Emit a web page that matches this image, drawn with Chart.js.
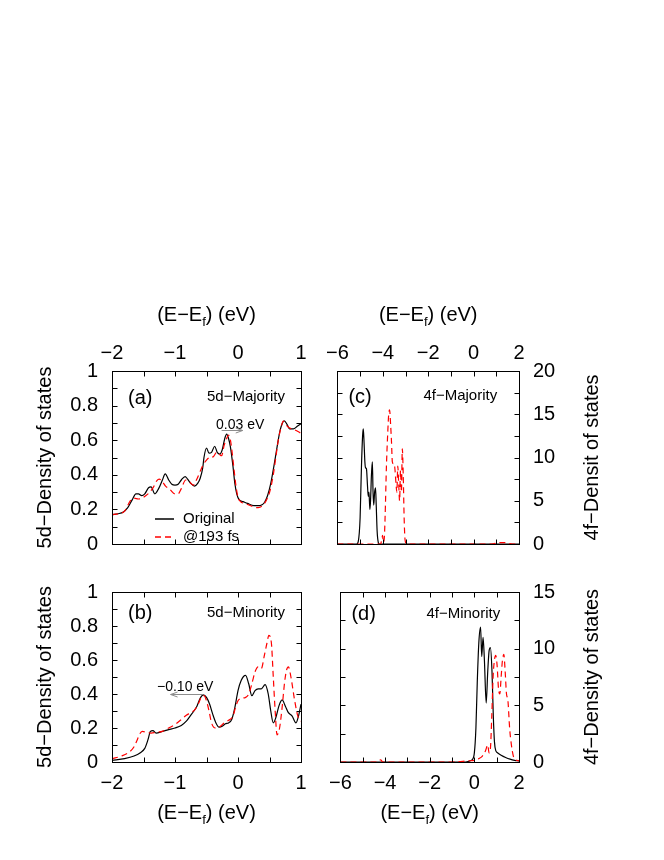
<!DOCTYPE html>
<html>
<head>
<meta charset="utf-8">
<script src="https://cdn.jsdelivr.net/npm/chart.js@4.4.0/dist/chart.umd.min.js"></script>
<style>
  body { margin: 0; background: #fff; }
  #wrap { position: relative; width: 664px; height: 860px; }
  canvas { position: absolute; }
</style>
</head>
<body>
<div id="wrap">
  <canvas id="pa" width="320" height="300" style="left:0;top:270px"></canvas>
  <canvas id="pb" width="320" height="294" style="left:0;top:566px"></canvas>
  <canvas id="pc" width="344" height="300" style="left:320px;top:270px"></canvas>
  <canvas id="pd" width="344" height="294" style="left:320px;top:566px"></canvas>
</div>
<script>
var FONT = '"Liberation Sans", Arial, Helvetica, sans-serif';

// tick labels
var x5dTicks = [-2, -1, 0, 1];
var x4fTicks = [-6, -4, -2, 0, 2];
var y5dTicks = [0, 0.2, 0.4, 0.6, 0.8, 1];
var y4fMajTicks = [0, 5, 10, 15, 20];
var y4fMinTicks = [0, 5, 10, 15];

// (a) 5d majority
var aOrigX = [-2.0,-1.9,-1.82,-1.75,-1.68,-1.62,-1.58,-1.53,-1.48,-1.42,-1.38,-1.32,-1.26,-1.2,-1.155,-1.1,-1.05,-1.0,-0.95,-0.9,-0.84,-0.8,-0.75,-0.69,-0.64,-0.6,-0.56,-0.54,-0.5,-0.46,-0.42,-0.37,-0.33,-0.29,-0.25,-0.21,-0.18,-0.15,-0.12,-0.08,-0.05,-0.02,0.02,0.08,0.15,0.25,0.35,0.42,0.47,0.52,0.57,0.62,0.67,0.735,0.78,0.82,0.88,0.94,1.0];
var aOrigY = [0.17,0.175,0.185,0.21,0.255,0.29,0.29,0.28,0.29,0.325,0.33,0.29,0.32,0.37,0.405,0.37,0.345,0.34,0.345,0.37,0.39,0.375,0.35,0.335,0.35,0.38,0.44,0.50,0.555,0.525,0.53,0.565,0.53,0.52,0.545,0.61,0.635,0.61,0.56,0.45,0.35,0.29,0.255,0.245,0.235,0.222,0.222,0.24,0.28,0.35,0.45,0.56,0.66,0.712,0.69,0.665,0.665,0.68,0.695];
var a193X = [-2.0,-1.9,-1.8,-1.74,-1.7,-1.65,-1.58,-1.52,-1.46,-1.4,-1.34,-1.29,-1.25,-1.2,-1.15,-1.08,-1.0,-0.95,-0.9,-0.83,-0.77,-0.71,-0.66,-0.6,-0.55,-0.5,-0.45,-0.39,-0.34,-0.3,-0.26,-0.22,-0.18,-0.15,-0.12,-0.09,-0.06,-0.03,0.0,0.04,0.1,0.18,0.26,0.32,0.4,0.46,0.51,0.56,0.6,0.64,0.68,0.72,0.76,0.82,0.9,1.0];
var a193Y = [0.17,0.175,0.19,0.23,0.255,0.265,0.26,0.265,0.28,0.3,0.33,0.365,0.375,0.36,0.335,0.315,0.29,0.29,0.32,0.37,0.36,0.34,0.37,0.42,0.46,0.485,0.5,0.505,0.53,0.52,0.51,0.57,0.61,0.63,0.6,0.52,0.42,0.33,0.27,0.245,0.235,0.225,0.212,0.21,0.225,0.26,0.31,0.4,0.5,0.6,0.67,0.71,0.69,0.67,0.66,0.64];

// (b) 5d minority
var bOrigX = [-2.0,-1.8,-1.65,-1.55,-1.48,-1.43,-1.39,-1.35,-1.3,-1.2,-1.1,-1.0,-0.9,-0.82,-0.76,-0.7,-0.65,-0.6,-0.55,-0.5,-0.45,-0.4,-0.35,-0.3,-0.25,-0.2,-0.15,-0.1,-0.05,0.0,0.05,0.12,0.17,0.22,0.27,0.32,0.37,0.43,0.48,0.52,0.56,0.6,0.65,0.7,0.75,0.8,0.86,0.92,0.96,1.0];
var bOrigY = [0.01,0.02,0.035,0.055,0.08,0.13,0.18,0.185,0.17,0.18,0.19,0.2,0.215,0.24,0.27,0.3,0.33,0.375,0.395,0.38,0.34,0.28,0.23,0.205,0.21,0.225,0.23,0.25,0.32,0.42,0.48,0.51,0.46,0.39,0.42,0.43,0.43,0.455,0.4,0.3,0.23,0.26,0.33,0.365,0.33,0.29,0.27,0.23,0.27,0.34];
var b193X = [-2.0,-1.85,-1.72,-1.65,-1.6,-1.56,-1.52,-1.45,-1.38,-1.3,-1.2,-1.1,-1.0,-0.9,-0.82,-0.75,-0.68,-0.62,-0.58,-0.54,-0.5,-0.46,-0.42,-0.36,-0.3,-0.22,-0.15,-0.08,-0.04,0.0,0.06,0.12,0.17,0.22,0.27,0.32,0.37,0.42,0.46,0.49,0.53,0.56,0.59,0.62,0.66,0.7,0.74,0.77,0.8,0.84,0.9,0.95,1.0];
var b193Y = [0.02,0.035,0.06,0.09,0.13,0.165,0.18,0.175,0.17,0.175,0.18,0.2,0.22,0.25,0.275,0.29,0.31,0.35,0.385,0.39,0.36,0.3,0.23,0.2,0.205,0.23,0.245,0.27,0.32,0.36,0.375,0.38,0.4,0.46,0.53,0.56,0.55,0.63,0.7,0.745,0.7,0.5,0.3,0.16,0.2,0.32,0.47,0.54,0.56,0.5,0.36,0.27,0.24];

// (c) 4f majority
var cOrigX = [-6,-5.15,-5.08,-5.0,-4.94,-4.89,-4.86,-4.83,-4.79,-4.76,-4.72,-4.68,-4.64,-4.61,-4.57,-4.54,-4.5,-4.46,-4.43,-4.4,-4.36,-4.32,-4.29,-4.25,-4.2,-4.15,2];
var cOrigY = [0,0,0.3,3,9,12.5,13.3,12,9.5,8.8,8.7,7,5.5,6,4,5,8,9.5,6,4.5,6,6.5,4.5,1.5,0.2,0,0];
var c193X = [-6,-4.1,-4.04,-4.01,-3.98,-3.94,-3.9,-3.84,-3.78,-3.74,-3.7,-3.66,-3.62,-3.58,-3.54,-3.5,-3.46,-3.42,-3.38,-3.34,-3.3,-3.26,-3.22,-3.18,-3.14,-3.1,-3.06,-3.02,-2.95,0.8,1.1,1.4,1.7,2];
var c193Y = [0,0,0.6,1,0.2,0.5,3,9,13,15,15.5,14,12,9.5,9.3,9.3,8.5,7,6,9,7,5,8.5,6,11,8,3,0.5,0,0,0.15,0.15,0,0];

// (d) 4f minority
var dOrigX = [-6,-0.4,-0.2,-0.1,0.0,0.07,0.13,0.2,0.28,0.33,0.39,0.45,0.53,0.6,0.66,0.72,0.79,0.85,0.9,0.96,1.05,1.2,1.4,1.6,1.8,2];
var dOrigY = [0,0,0.1,0.2,0.8,3,7,10.5,11.9,9.3,11,9,5.2,8,9.8,10.1,8,4,1.8,1,0.8,0.6,0.4,0.25,0.15,0.1];
var d193X = [-6,-4.3,-4.2,-4.1,-3.5,-1,-0.3,0.0,0.2,0.35,0.5,0.6,0.66,0.72,0.78,0.84,0.9,0.96,1.02,1.08,1.14,1.2,1.26,1.32,1.38,1.44,1.5,1.58,1.66,1.75,1.85,2];
var d193Y = [0,0,0.2,0,0,0,0.1,0.15,0.3,0.5,1,1.5,0.8,1.2,4,7.5,9,9.4,8.5,6.5,6,7.5,9,9.5,8,6,5.5,3,1.5,0.5,0.2,0.1];

var seriesNames = ['Original', '@193 fs'];
var seriesColors = ['#000000', '#ff0000'];
var seriesDash = [[], [6, 4]];

function pts(xs, ys) {
  return xs.map(function(x, i) { return {x: x, y: ys[i]}; });
}

function fmt(v) {
  var r = Math.round(v * 10) / 10;
  return r < 0 ? '\u2212' + Math.abs(r) : String(r);
}

function sets(ox, oy, rx, ry) {
  return [
    { label: seriesNames[0], data: pts(ox, oy), borderColor: seriesColors[0], borderWidth: 1.2,
      borderDash: seriesDash[0], pointRadius: 0, cubicInterpolationMode: 'monotone', order: 1 },
    { label: seriesNames[1], data: pts(rx, ry), borderColor: seriesColors[1], borderWidth: 1.2,
      borderDash: seriesDash[1], pointRadius: 0, cubicInterpolationMode: 'monotone', order: 0 }
  ];
}

function axis(pos, min, max, tickVals, size, pad) {
  var horiz = (pos == 'top' || pos == 'bottom');
  return {
    type: 'linear', position: pos, min: min, max: max,
    grid: { display: false, drawTicks: false }, border: { display: false },
    ticks: { color: '#000', padding: pad, autoSkip: false, maxRotation: 0,
             font: { family: FONT, size: 20 }, callback: fmt },
    afterBuildTicks: function(s) { s.ticks = tickVals.map(function(v) { return {value: v}; }); },
    afterFit: function(s) { if (horiz) s.height = size; else s.width = size; }
  };
}

function eTitle(ctx, cx, cy) {
  var p1 = '(E\u2212E', p2 = 'f', p3 = ') (eV)';
  ctx.font = '20px ' + FONT;
  var w1 = ctx.measureText(p1).width, w3 = ctx.measureText(p3).width;
  ctx.font = '13px ' + FONT;
  var w2 = ctx.measureText(p2).width;
  var x = cx - (w1 + w2 + w3) / 2;
  ctx.textAlign = 'left'; ctx.textBaseline = 'middle';
  ctx.font = '20px ' + FONT; ctx.fillText(p1, x, cy);
  ctx.font = '13px ' + FONT; ctx.fillText(p2, x + w1, cy + 7);
  ctx.font = '20px ' + FONT; ctx.fillText(p3, x + w1 + w2, cy);
}

function arrow(ctx, x1, x2, y) {
  var d = x2 > x1 ? 1 : -1;
  ctx.beginPath();
  ctx.moveTo(x1, y); ctx.lineTo(x2, y);
  ctx.moveTo(x2 - d * 7, y - 2.5); ctx.lineTo(x2, y); ctx.lineTo(x2 - d * 7, y + 2.5);
  ctx.stroke();
}

var deco = {
  id: 'deco',
  afterDraw: function(chart, args, o) {
    var ctx = chart.ctx, a = chart.chartArea, xs = chart.scales.x, ys = chart.scales.y;
    var L = Math.round(a.left) + 0.5, R = Math.round(a.right) + 0.5;
    var T = Math.round(a.top) + 0.5, B = Math.round(a.bottom) + 0.5;
    ctx.save();
    ctx.strokeStyle = '#000'; ctx.lineWidth = 1;
    ctx.beginPath();
    for (var v = xs.min; v <= xs.max + 1e-9; v += o.xStep) {
      var px = Math.round(xs.getPixelForValue(v)) + 0.5;
      ctx.moveTo(px, T); ctx.lineTo(px, T + 5);
      ctx.moveTo(px, B); ctx.lineTo(px, B - 5);
    }
    for (var w = ys.min; w <= ys.max + 1e-9; w += o.yStep) {
      var py = Math.round(ys.getPixelForValue(w)) + 0.5;
      ctx.moveTo(L, py); ctx.lineTo(L + 5, py);
      ctx.moveTo(R, py); ctx.lineTo(R - 5, py);
    }
    ctx.stroke();
    ctx.strokeRect(L, T, R - L, B - T);

    ctx.fillStyle = '#000';
    ctx.textBaseline = 'middle'; ctx.textAlign = 'left';
    ctx.font = '20px ' + FONT;
    ctx.fillText(o.tag, a.left + o.tagPos[0], a.top + o.tagPos[1]);
    ctx.font = '15px ' + FONT;
    ctx.fillText(o.name, a.left + o.namePos[0], a.top + o.namePos[1]);

    // axis titles
    if (o.xTitle == 'top') eTitle(ctx, (a.left + a.right) / 2, a.top - 56);
    else eTitle(ctx, (a.left + a.right) / 2, a.bottom + 51);
    ctx.save();
    ctx.font = '20px ' + FONT; ctx.textAlign = 'center'; ctx.textBaseline = 'middle';
    var tx = o.yTitleSide == 'left' ? 45 : a.right + 73;
    ctx.translate(tx, (a.top + a.bottom) / 2);
    ctx.rotate(-Math.PI / 2);
    ctx.fillText(o.yTitle, 0, 0);
    ctx.restore();

    // shift annotation
    if (o.shift) {
      ctx.font = '14px ' + FONT; ctx.textAlign = 'left'; ctx.textBaseline = 'middle';
      ctx.fillText(o.shift.text, a.left + o.shift.textPos[0], a.top + o.shift.textPos[1]);
      ctx.strokeStyle = '#8c8c8c'; ctx.lineWidth = 1;
      arrow(ctx, xs.getPixelForValue(o.shift.from), xs.getPixelForValue(o.shift.to),
            Math.round(ys.getPixelForValue(o.shift.y)) + 0.5);
    }

    // legend
    if (o.legend) {
      ctx.font = '15px ' + FONT; ctx.textAlign = 'left'; ctx.textBaseline = 'middle';
      for (var i = 0; i < seriesNames.length; i++) {
        var ly = Math.round(a.top + 148 + i * 18);
        ctx.strokeStyle = seriesColors[i]; ctx.lineWidth = 1.5;
        ctx.setLineDash(seriesDash[i]);
        ctx.beginPath(); ctx.moveTo(a.left + 43, ly); ctx.lineTo(a.left + 62, ly); ctx.stroke();
        ctx.setLineDash([]);
        ctx.fillStyle = '#000';
        ctx.fillText(seriesNames[i], a.left + 71, ly);
      }
    }
    ctx.restore();
  }
};

function makeChart(id, datasets, xAx, yAx, pad, deco_opts) {
  return new Chart(document.getElementById(id), {
    type: 'line',
    data: { datasets: datasets },
    options: {
      responsive: false, animation: false, events: [],
      layout: { padding: pad },
      scales: { x: xAx, y: yAx },
      plugins: { legend: { display: false }, tooltip: { enabled: false }, deco: deco_opts }
    },
    plugins: [deco]
  });
}

makeChart('pa', sets(aOrigX, aOrigY, a193X, a193Y),
  axis('top', -2, 1, x5dTicks, 101, 6), axis('left', 0, 1, y5dTicks, 112, 14),
  { left: 0, top: 0, right: 19, bottom: 15 },
  { xStep: 0.5, yStep: 0.1, tag: '(a)', tagPos: [16, 27], name: '5d\u2212Majority', namePos: [95, 26],
    xTitle: 'top', yTitleSide: 'left', yTitle: '5d\u2212Density of states', legend: true,
    shift: { text: '0.03 eV', textPos: [104, 54], from: -0.26, to: 0.075, y: 0.658 } });

makeChart('pb', sets(bOrigX, bOrigY, b193X, b193Y),
  axis('bottom', -2, 1, x5dTicks, 98, 9), axis('left', 0, 1, y5dTicks, 112, 14),
  { left: 0, top: 16, right: 19, bottom: 0 },
  { xStep: 0.5, yStep: 0.1, tag: '(b)', tagPos: [16, 21], name: '5d\u2212Minority', namePos: [95, 21],
    xTitle: 'bottom', yTitleSide: 'left', yTitle: '5d\u2212Density of states',
    shift: { text: '\u22120.10 eV', textPos: [45, 95], from: -0.55, to: -1.07, y: 0.40 } });

makeChart('pc', sets(cOrigX, cOrigY, c193X, c193Y),
  axis('top', -6, 2, x4fTicks, 101, 6), axis('right', 0, 20, y4fMajTicks, 145, 14),
  { left: 12, top: 0, right: 0, bottom: 15 },
  { xStep: 1, yStep: 2.5, tag: '(c)', tagPos: [11, 26], name: '4f\u2212Majority', namePos: [86, 25],
    xTitle: 'top', yTitleSide: 'right', yTitle: '4f\u2212Densit of states' });

makeChart('pd', sets(dOrigX, dOrigY, d193X, d193Y),
  axis('bottom', -6, 2, x4fTicks, 98, 9), axis('right', 0, 15, y4fMinTicks, 145, 14),
  { left: 12, top: 16, right: 0, bottom: 0 },
  { xStep: 1, yStep: 2.5, tag: '(d)', tagPos: [11, 22], name: '4f\u2212Minority', namePos: [86, 22],
    xTitle: 'bottom', yTitleSide: 'right', yTitle: '4f\u2212Density of states' });
</script>
</body>
</html>
